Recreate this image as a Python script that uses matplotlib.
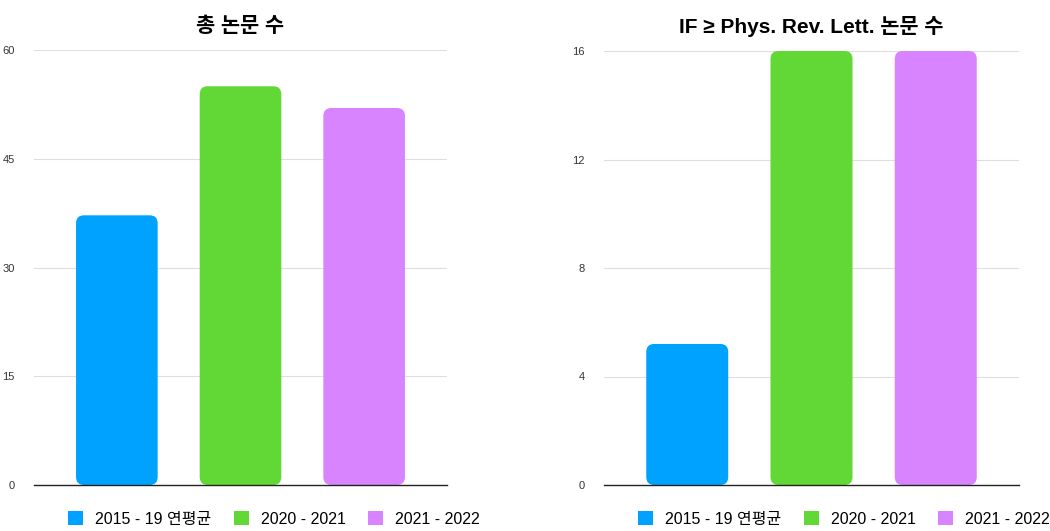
import matplotlib
matplotlib.use("Agg")
import matplotlib.pyplot as plt
from matplotlib.patches import FancyBboxPatch, Patch

plt.rcParams['font.family'] = ['Liberation Sans', 'Noto Sans CJK KR', 'DejaVu Sans']

# ---------------------------
# data
# ---------------------------
series = ["2015 - 19 연평균", "2020 - 2021", "2021 - 2022"]
colors = ["#00A2FF", "#61D836", "#D883FF"]

total_title = "총 논문 수"
total_values = [37.2, 55, 52]
total_ticks = [0, 15, 30, 45, 60]

prl_title = "IF ≥ Phys. Rev. Lett. 논문 수"
prl_values = [5.2, 16, 16]
prl_ticks = [0, 4, 8, 12, 16]

W, H = 1050, 531
fig = plt.figure(figsize=(W / 100, H / 100), dpi=100)


def px_axes(x0, x1, ytop, ybot):
    return fig.add_axes([x0 / W, 1 - ybot / H, (x1 - x0) / W, (ybot - ytop) / H])


def draw_panel(ax, values, ticks, title, legend_x):
    xs = range(len(values))
    bars = ax.bar(xs, values, width=0.66, color=colors)
    ax.set_xlim(-0.67, len(values) - 1 + 0.67)
    ax.set_ylim(0, ticks[-1])

    # swap plain bars for rounded ones
    bb = ax.get_window_extent()
    xr = (ax.get_xlim()[1] - ax.get_xlim()[0]) / bb.width
    yr = (ax.get_ylim()[1] - ax.get_ylim()[0]) / bb.height
    rad = 8 * xr
    for b in bars:
        rb = FancyBboxPatch((b.get_x(), 0), b.get_width(), b.get_height(),
                            boxstyle=f"round,pad=0,rounding_size={rad}",
                            mutation_aspect=yr / xr,
                            facecolor=b.get_facecolor(), edgecolor="none", zorder=2)
        ax.add_patch(rb)
        b.remove()

    ax.set_yticks(ticks)
    ax.set_yticklabels([str(t) for t in ticks], fontsize=8, color="#333333")
    ax.tick_params(axis="y", length=0, pad=14)
    ax.set_xticks([])
    for s in ["top", "right", "left"]:
        ax.spines[s].set_visible(False)
    ax.spines["bottom"].set_color("#222222")
    ax.spines["bottom"].set_linewidth(1.0)
    ax.spines["bottom"].set_zorder(3)
    ax.grid(axis="y", color="#dedede", linewidth=0.8, zorder=0)
    ax.set_axisbelow(True)
    ax.set_title(title, fontsize=15, fontweight="bold", pad=13)

    handles = [Patch(facecolor=c, edgecolor="none") for c in colors]
    fig.legend(handles, series, loc="center", ncol=3, frameon=False,
               bbox_to_anchor=(legend_x / W, 1 - 519 / H),
               fontsize=11.5, handlelength=0.95, handleheight=0.95,
               handletextpad=0.75, columnspacing=1.4)


ax1 = px_axes(34, 447, 50, 485)
draw_panel(ax1, total_values, total_ticks, total_title, 274)

ax2 = px_axes(604, 1019, 51, 485)
draw_panel(ax2, prl_values, prl_ticks, prl_title, 844)

fig.savefig("out.png", dpi=100)
